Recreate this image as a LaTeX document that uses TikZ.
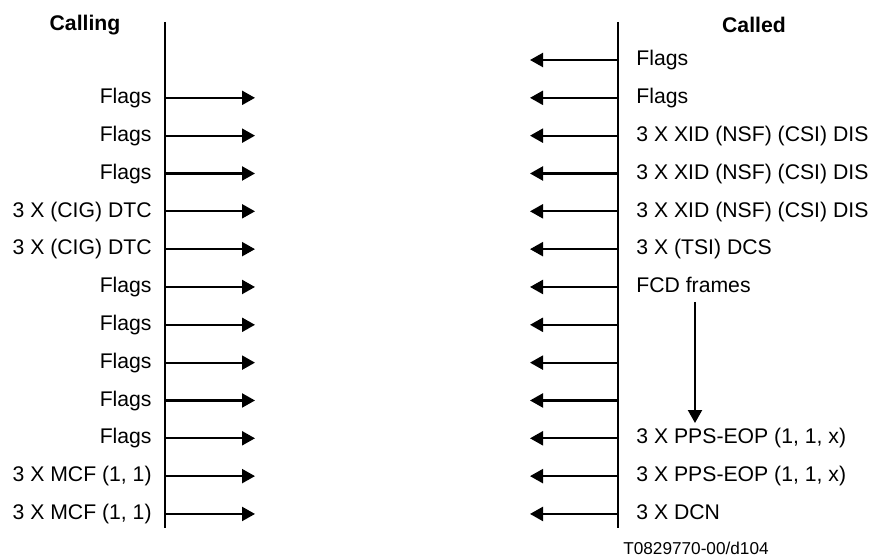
\documentclass[tikz,border=0pt]{standalone}
\usepackage{fontspec}
\setmainfont{Liberation Sans}
\usetikzlibrary{arrows.meta}
\begin{document}
\begin{tikzpicture}[x=0.5pt,y=-0.5pt,
  lbl/.style={inner sep=0pt,font=\fontsize{10.6}{12}\selectfont},
  ttl/.style={inner sep=0pt,font=\fontsize{10.6}{12}\selectfont\bfseries},
  figcap/.style={inner sep=0pt,font=\fontsize{8.6}{10}\selectfont},
  life/.style={line width=1.1pt},
  msg/.style={line width=1.1pt,-{Triangle[length=6.5pt,width=7pt]}}]
\useasboundingbox (0,0) rectangle (869,556);
% titles
\node[ttl,anchor=base] (calling) at (85,31) {Calling};
\node[ttl,anchor=base] (called) at (754,33) {Called};
% life lines
\coordinate (ltop) at (165,22); \coordinate (lbot) at (165,528);
\coordinate (rtop) at (618,22); \coordinate (rbot) at (618,528);
\draw[life] (ltop) -- (lbot);
\draw[life] (rtop) -- (rbot);
% left messages
\foreach \i/\t in {1/Flags,2/Flags,3/Flags,4/{3 X (CIG) DTC},5/{3 X (CIG) DTC},6/Flags,7/Flags,8/Flags,9/Flags,10/Flags,11/{3 X MCF (1, 1)},12/{3 X MCF (1, 1)}}{
  \pgfmathsetmacro{\yy}{60+37.83*\i}
  \coordinate (ls\i) at (165,\yy);
  \coordinate (le\i) at (255,\yy);
  \node[lbl,anchor=base east] (lt\i) at (152,\yy+5.7) {\t};
  \draw[msg] (ls\i) -- (le\i);
}
% right messages
\foreach \i/\t in {0/Flags,1/Flags,2/{3 X XID (NSF) (CSI) DIS},3/{3 X XID (NSF) (CSI) DIS},4/{3 X XID (NSF) (CSI) DIS},5/{3 X (TSI) DCS},6/{FCD frames},7/{},8/{},9/{},10/{3 X PPS-EOP (1, 1, x)},11/{3 X PPS-EOP (1, 1, x)},12/{3 X DCN}}{
  \pgfmathsetmacro{\yy}{60+37.83*\i}
  \coordinate (rs\i) at (618,\yy);
  \coordinate (re\i) at (530,\yy);
  \node[lbl,anchor=base west] (rt\i) at (636,\yy+5.7) {\t};
  \draw[msg] (rs\i) -- (re\i);
}
% FCD frames continuation
\coordinate (fs) at (695,302);
\coordinate (fe) at (695,423);
\draw[msg] (fs) -- (fe);
% caption
\node[figcap,anchor=base] (caption) at (696,554) {T0829770-00/d104};
\end{tikzpicture}
\end{document}
